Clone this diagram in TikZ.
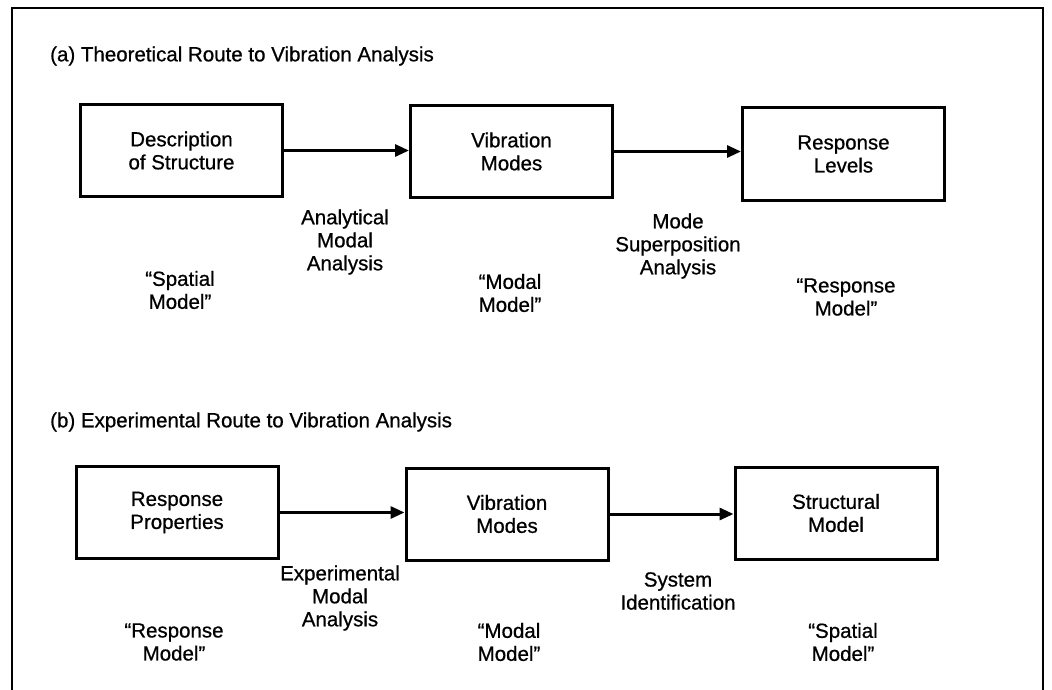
\documentclass[tikz,border=0pt]{standalone}
\usepackage{fontspec}
% slightly heavier strokes for the lettering
\setmainfont{Liberation Sans}[FakeBold=0.7]
\usetikzlibrary{arrows.meta}
\begin{document}
\begin{tikzpicture}[x=1pt,y=-1pt,
  every node/.style={font=\fontsize{20.5}{23}\selectfont, align=center, inner sep=0pt},
  stagebox/.style={draw, line width=3pt, minimum width=202pt, minimum height=92pt},
  flow/.style={line width=3pt, -{Triangle[length=14pt,width=12pt]}},
  caption/.style={anchor=west},
  lbl/.style={}]
\useasboundingbox (0,0) rectangle (1052,690);
% frame (open at the foot of the page)
\draw[line width=2.2pt] (12,692) -- (12,8) -- (1043,8) -- (1043,692);

% (a) theoretical route
\node[caption] (ta) at (50,56) {(a) Theoretical Route to Vibration Analysis};
\node[stagebox] (a1) at (181.5,150.5) {Description\\of Structure};
\node[stagebox] (a2) at (511.5,151.5) {Vibration\\Modes};
\node[stagebox] (a3) at (843.5,154) {Response\\Levels};
\draw[flow] (a1.east) -- (a1.east -| a2.west);
\draw[flow] (a2.east) -- (a2.east -| a3.west);
\node[lbl] (la1) at (345,242) {Analytical\\Modal\\Analysis};
\node[lbl] (la2) at (678,246) {Mode\\Superposition\\Analysis};
\node[lbl] (ma1) at (180,290) {“Spatial\\Model”};
\node[lbl] (ma2) at (510,293) {“Modal\\Model”};
\node[lbl] (ma3) at (846,297) {“Response\\Model”};

% (b) experimental route
\node[caption] (tb) at (50,422) {(b) Experimental Route to Vibration Analysis};
\node[stagebox] (b1) at (177,512.5) {Response\\Properties};
\node[stagebox] (b2) at (507,514) {Vibration\\Modes};
\node[stagebox] (b3) at (836,513) {Structural\\Model};
\draw[flow] (b1.east) -- (b1.east -| b2.west);
\draw[flow] (b2.east) -- (b2.east -| b3.west);
\node[lbl] (lb1) at (340,598) {Experimental\\Modal\\Analysis};
\node[lbl] (lb2) at (678,591) {System\\Identification};
\node[lbl] (mb1) at (174,642) {“Response\\Model”};
\node[lbl] (mb2) at (509,642) {“Modal\\Model”};
\node[lbl] (mb3) at (843,642) {“Spatial\\Model”};
\end{tikzpicture}
\end{document}
